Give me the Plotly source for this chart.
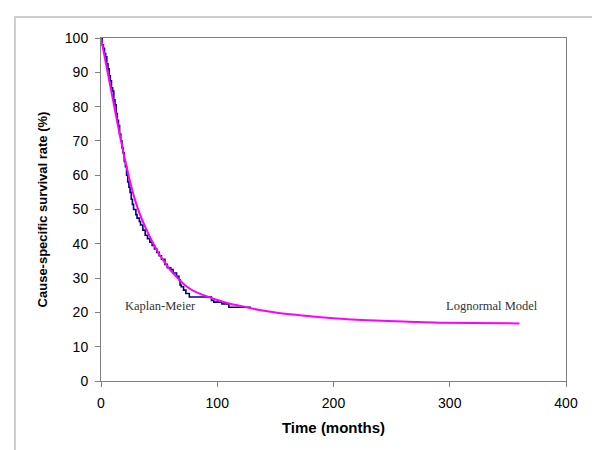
import plotly.graph_objects as go

# Kaplan-Meier estimate (months, %)
km_time = [0, 1, 2, 3, 4, 5, 6, 7, 8, 9, 10, 11, 12, 13, 14, 15, 16, 17, 18, 19,
           20, 21, 22, 23, 24, 25, 26, 27, 28, 30, 31, 33, 34, 36, 38, 40, 42, 44,
           46, 48, 50, 52, 55, 57, 60, 62, 65, 67, 68, 69, 71, 73, 76, 95, 97,
           104, 110, 129]
km_surv = [100, 98, 97, 95.5, 94.5, 92.5, 91, 89, 87.5, 85.5, 84.5, 82, 80.5, 78,
           76, 74.5, 72, 70, 68, 66.5, 64, 62.5, 60, 58, 56.5, 55, 53, 51.5, 50,
           48.5, 47.5, 46.5, 45.5, 44, 42.5, 41.5, 40.5, 39.5, 38.5, 37.5, 36.5,
           35.5, 34, 33, 32.5, 31.5, 30.5, 29.5, 28, 27.5, 26.5, 25.5, 24.5, 23.5,
           23, 22.5, 21.5, 21.5]

# Lognormal model (months, %)
ln_time = [0, 2, 4, 6, 8, 10, 12, 14, 16, 18, 20, 22, 24, 27, 30, 33, 36, 40, 45,
           50, 55, 60, 66, 72, 80, 90, 100, 110, 120, 135, 150, 165, 180, 200, 212,
           230, 247, 270, 290, 320, 360]
ln_surv = [100, 96.5, 93, 89.5, 86, 82.5, 79, 75.5, 72, 68.8, 65.5, 62.5, 59.5,
           55.5, 52, 49, 46.5, 43.5, 40, 37, 34.5, 32.2, 30, 28, 26.2, 24.8, 23.6,
           22.6, 21.9, 20.8, 20.0, 19.4, 18.9, 18.3, 18.0, 17.7, 17.5, 17.2, 17.0,
           16.9, 16.8]

x_ticks = [0, 100, 200, 300, 400]
y_ticks = [0, 10, 20, 30, 40, 50, 60, 70, 80, 90, 100]

fig = go.Figure()
fig.add_trace(go.Scatter(x=km_time, y=km_surv, mode="lines", line_shape="hv",
                         line=dict(color="#000080", width=1.6), name="Kaplan-Meier"))
fig.add_trace(go.Scatter(x=ln_time, y=ln_surv, mode="lines", line_shape="spline",
                         line=dict(color="#FF00FF", width=2), name="Lognormal Model"))

axis_common = dict(showline=True, linecolor="#808080", linewidth=1, mirror=True,
                   ticks="outside", ticklen=5, tickcolor="#808080", showgrid=False,
                   zeroline=False, ticklabelstandoff=4,
                   tickfont=dict(family="Arial, Liberation Sans", size=14, color="#000000"))
fig.update_xaxes(range=[0, 400], tickvals=x_ticks,
                 title=dict(text="<b>Time (months)</b>", standoff=12,
                            font=dict(family="Arial, Liberation Sans", size=15, color="#000000")),
                 **axis_common)
fig.update_yaxes(range=[0, 100], tickvals=y_ticks,
                 title=dict(text="<b>Cause-specific survival rate (%)</b>", standoff=14,
                            font=dict(family="Arial, Liberation Sans", size=13, color="#000000")),
                 **axis_common)

serif = dict(family="Times New Roman, Liberation Serif", size=12.5, color="#333333")
fig.add_annotation(x=51, y=21.8, text="Kaplan-Meier", showarrow=False, font=serif)
fig.add_annotation(x=336, y=21.9, text="Lognormal Model", showarrow=False, font=serif)

fig.add_shape(type="rect", xref="paper", yref="paper",
              x0=-0.185, x1=1.0753, y0=-0.2064, y1=1.061,
              line=dict(color="#BEBEBE", width=1.5), fillcolor="rgba(0,0,0,0)", layer="below")

fig.update_layout(width=600, height=450, showlegend=False,
                  paper_bgcolor="white", plot_bgcolor="white",
                  margin=dict(l=93, r=42, t=30, b=77))
fig.write_html("out.html")
